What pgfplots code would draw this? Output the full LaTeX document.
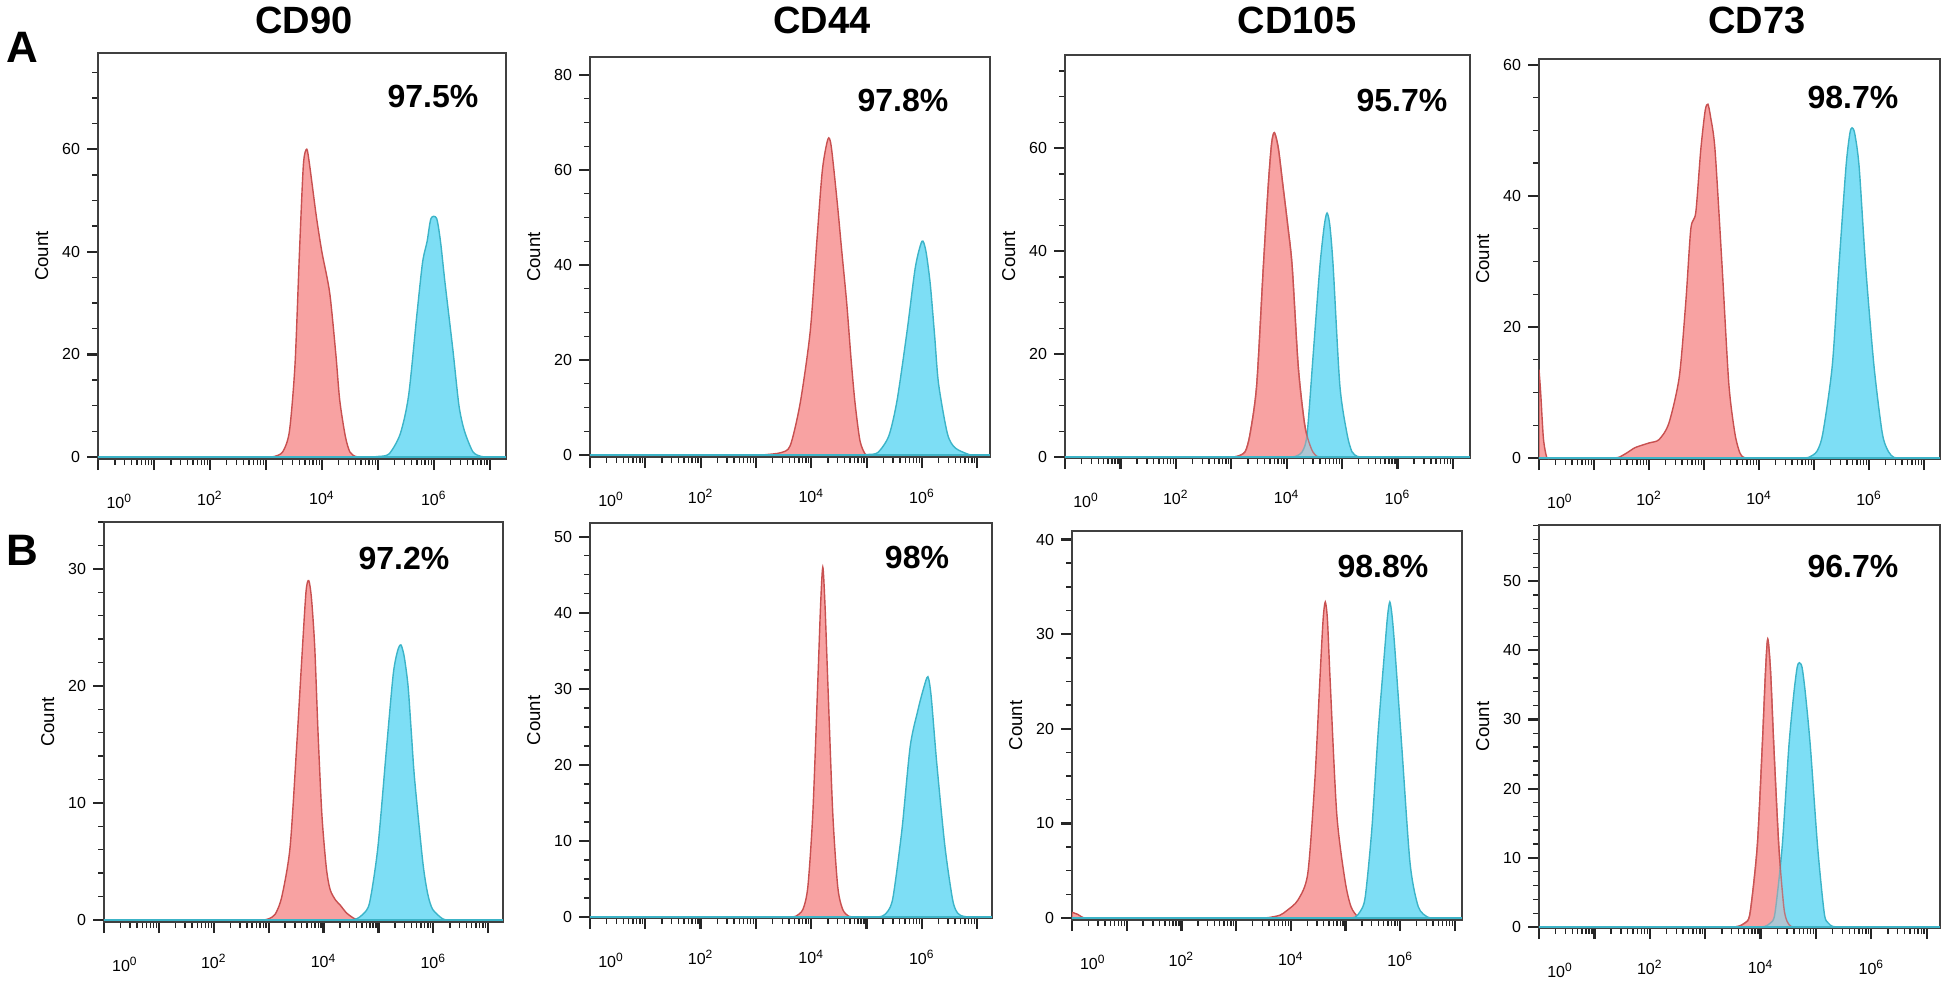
\documentclass[border=0pt]{standalone}
\usepackage{fontspec}
\setmainfont{Liberation Sans}
\usepackage{pgfplots}
\pgfplotsset{compat=1.18}
\definecolor{redfill}{RGB}{248,162,162}
\definecolor{redline}{RGB}{200,80,80}
\definecolor{bluefill}{RGB}{125,222,245}
\definecolor{blueline}{RGB}{60,180,200}
\pgfplotsset{
  flow/.style={
    scale only axis,
    axis line style={black!75, line width=0.7pt},
    xmin=0,
    tick align=outside, xtick pos=bottom, ytick pos=left,
    xtick={0,1,2,3,4,5,6,7},
    xticklabels={,,10\textsuperscript{2},,10\textsuperscript{4},,10\textsuperscript{6},},
    extra x ticks={0.38},
    extra x tick labels={10\textsuperscript{0}},
    extra x tick style={major tick length=0pt, xticklabel style={yshift=-7pt}},
    minor xtick={0.301,0.477,0.602,0.699,0.778,0.845,0.903,0.954,
      1.301,1.477,1.602,1.699,1.778,1.845,1.903,1.954,
      2.301,2.477,2.602,2.699,2.778,2.845,2.903,2.954,
      3.301,3.477,3.602,3.699,3.778,3.845,3.903,3.954,
      4.301,4.477,4.602,4.699,4.778,4.845,4.903,4.954,
      5.301,5.477,5.602,5.699,5.778,5.845,5.903,5.954,
      6.301,6.477,6.602,6.699,6.778,6.845,6.903,6.954},
    major tick length=5.5pt, minor tick length=3pt,
    every major tick/.append style={black!85, line width=1.1pt},
    every minor tick/.append style={black!85, line width=0.7pt},
    tick label style={font=\fontsize{8}{9}\selectfont},
    xticklabel style={yshift=-7pt},
    /pgf/number format/assume math mode=true,
    ylabel={Count},
    ylabel style={font=\fontsize{9.3}{10}\selectfont},
  },
  redpk/.style={smooth, tension=0.45, fill=redfill, draw=redline, line width=0.7pt},
  redov/.style={smooth, tension=0.45, fill=redfill, draw=redline, line width=0.7pt, fill opacity=0.4, draw opacity=0.7},
  bluepk/.style={smooth, tension=0.45, fill=bluefill, draw=blueline, line width=0.7pt},
  basel/.style={blueline, line width=0.8pt},
}
\begin{document}
\begin{tikzpicture}
\useasboundingbox (0,0) rectangle (973.5pt,-492pt);
% ---------------- Row A ----------------
% A1 CD90
\begin{axis}[flow, at={(49pt,-229.5pt)}, anchor=south west, width=204pt, height=203pt,
  xmax=7.29, ymin=-0.39, ymax=78.75, ytick={0,20,40,60}, minor ytick={5,10,...,75}]
\addplot[redpk] coordinates {(3.05,0)(3.15,0.1)(3.3,1)(3.42,5)(3.52,18)(3.6,40)(3.67,57)(3.73,60)(3.78,57)(3.9,47)(4.0,40)(4.14,32)(4.25,20)(4.32,11)(4.42,4)(4.5,1)(4.6,0.1)(4.7,0)} \closedcycle;
\addplot[bluepk] coordinates {(4.9,0)(5.0,0.1)(5.2,0.6)(5.4,4.5)(5.55,12)(5.7,28)(5.8,38)(5.88,42)(5.95,46.5)(6.05,46.5)(6.12,42)(6.2,34)(6.34,21)(6.45,10)(6.55,5)(6.7,1)(6.85,0.1)(6.95,0)} \closedcycle;
\addplot[basel] coordinates {(0,0)(7.29,0)};
\end{axis}
% A2 CD44
\begin{axis}[flow, at={(295pt,-228.5pt)}, anchor=south west, width=200pt, height=200pt,
  xmax=7.23, ymin=-0.42, ymax=83.8, ytick={0,20,40,60,80}, minor ytick={5,10,...,80}]
\addplot[redpk] coordinates {(3.1,0)(3.2,0.1)(3.45,0.5)(3.62,2)(3.8,11)(3.98,26)(4.1,45)(4.2,60)(4.3,66.5)(4.36,65)(4.47,53)(4.55,43)(4.64,32)(4.72,20)(4.79,11)(4.88,3)(4.98,0.1)(5.08,0)} \closedcycle;
\addplot[bluepk] coordinates {(4.9,0)(5.0,0.1)(5.2,0.5)(5.4,4)(5.55,11.5)(5.73,26)(5.88,39.5)(6.0,45)(6.07,43)(6.15,36)(6.23,25)(6.3,15)(6.46,4.5)(6.6,1.5)(6.85,0.1)(6.95,0)} \closedcycle;
\addplot[basel] coordinates {(0,0)(7.23,0)};
\end{axis}
% A3 CD105
\begin{axis}[flow, at={(532.5pt,-229pt)}, anchor=south west, width=202.5pt, height=201.5pt,
  xmax=7.31, ymin=-0.2, ymax=78.1, ytick={0,20,40,60}, minor ytick={5,10,...,75}]
\addplot[redpk] coordinates {(3.0,0)(3.1,0.1)(3.25,1)(3.34,4.5)(3.46,14)(3.58,37)(3.67,53)(3.73,61)(3.78,63)(3.85,60)(3.93,53)(4.02,45)(4.1,37)(4.21,17.5)(4.33,6)(4.45,1.5)(4.55,0.1)(4.65,0)} \closedcycle;
\addplot[bluepk] coordinates {(4.05,0)(4.15,0.1)(4.28,1)(4.37,4.5)(4.48,20)(4.6,37)(4.68,45)(4.73,47.4)(4.78,45)(4.84,37)(4.96,14)(5.09,4.5)(5.18,1)(5.28,0.1)(5.38,0)} \closedcycle;
\addplot[redov] coordinates {(3.0,0)(3.1,0.1)(3.25,1)(3.34,4.5)(3.46,14)(3.58,37)(3.67,53)(3.73,61)(3.78,63)(3.85,60)(3.93,53)(4.02,45)(4.1,37)(4.21,17.5)(4.33,6)(4.45,1.5)(4.55,0.1)(4.65,0)} \closedcycle;
\addplot[basel] coordinates {(0,0)(7.31,0)};
\end{axis}
% A4 CD73
\begin{axis}[flow, at={(769.5pt,-229.5pt)}, anchor=south west, width=200.5pt, height=200pt,
  xmax=7.29, ymin=-0.15, ymax=60.9, ytick={0,20,40,60}, minor ytick={5,10,...,60}]
\addplot[redpk] coordinates {(0,13.5)(0.03,10)(0.08,3)(0.14,0.1)(0.2,0)} \closedcycle;
\addplot[redpk] coordinates {(1.35,0)(1.45,0.1)(1.6,0.8)(1.75,1.6)(2.0,2.3)(2.18,2.8)(2.36,5.3)(2.55,12.4)(2.67,24)(2.76,35)(2.85,37.5)(2.94,47)(3.02,53)(3.07,54)(3.12,52)(3.2,47)(3.33,29)(3.45,11.4)(3.56,3.8)(3.65,0.8)(3.72,0.1)(3.82,0)} \closedcycle;
\addplot[bluepk] coordinates {(4.8,0)(4.9,0.1)(5.05,1)(5.16,3.8)(5.33,14)(5.45,29)(5.58,44.4)(5.65,49.5)(5.69,50.4)(5.74,49.5)(5.82,44.4)(5.94,29)(6.09,14)(6.24,3.8)(6.35,1)(6.45,0.1)(6.55,0)} \closedcycle;
\addplot[basel] coordinates {(0,0)(7.29,0)};
\end{axis}
% ---------------- Row B ----------------
% B1 CD90
\begin{axis}[flow, at={(52pt,-461pt)}, anchor=south west, width=199.5pt, height=200pt,
  xmax=7.27, ymin=-0.17, ymax=34.0, ytick={0,10,20,30}, minor ytick={2,4,...,34}]
\addplot[redpk] coordinates {(2.9,0)(3.0,0.1)(3.12,0.5)(3.24,2)(3.39,6.2)(3.51,14.8)(3.6,22)(3.68,28)(3.73,29)(3.78,27.5)(3.84,23.3)(3.9,16)(3.97,9)(4.05,4.5)(4.12,2.6)(4.22,1.7)(4.3,1.3)(4.42,0.6)(4.57,0.1)(4.67,0)} \closedcycle;
\addplot[bluepk] coordinates {(4.5,0)(4.6,0.1)(4.72,0.5)(4.84,1.5)(4.99,6.2)(5.15,14.8)(5.27,21)(5.35,23)(5.41,23.5)(5.47,22.5)(5.54,20)(5.6,16)(5.66,12)(5.81,4.9)(5.9,2.2)(5.99,0.9)(6.17,0.1)(6.27,0)} \closedcycle;
\addplot[basel] coordinates {(0,0)(7.27,0)};
\end{axis}
% B2 CD44
\begin{axis}[flow, at={(295pt,-459pt)}, anchor=south west, width=201pt, height=197.5pt,
  xmax=7.27, ymin=-0.13, ymax=51.8, ytick={0,10,20,30,40,50}, minor ytick={2.5,5,...,50}]
\addplot[redpk] coordinates {(3.62,0)(3.72,0.1)(3.85,1)(3.94,4)(4.03,13.7)(4.12,31)(4.17,41)(4.21,46)(4.25,41)(4.3,31)(4.39,13.7)(4.48,4)(4.57,1)(4.68,0.1)(4.78,0)} \closedcycle;
\addplot[bluepk] coordinates {(5.18,0)(5.28,0.1)(5.38,0.7)(5.48,2.6)(5.64,11.4)(5.79,22.4)(5.93,27.2)(6.03,30)(6.11,31.6)(6.17,29)(6.27,20.3)(6.42,9.2)(6.56,2.2)(6.65,0.5)(6.75,0.1)(6.85,0)} \closedcycle;
\addplot[basel] coordinates {(0,0)(7.27,0)};
\end{axis}
% B3 CD105
\begin{axis}[flow, at={(536pt,-460pt)}, anchor=south west, width=195pt, height=194.5pt,
  xmax=7.13, ymin=-0.21, ymax=40.9, ytick={0,10,20,30,40}, minor ytick={2.5,5,...,40}]
\addplot[redpk] coordinates {(0,0.6)(0.1,0.4)(0.2,0.05)(0.3,0)} \closedcycle;
\addplot[redpk] coordinates {(3.5,0)(3.6,0.05)(3.8,0.3)(3.93,0.8)(4.13,1.9)(4.31,4.7)(4.44,14.6)(4.53,25)(4.59,31.5)(4.63,33.4)(4.67,31.5)(4.72,25)(4.84,11)(4.99,4)(5.1,1.2)(5.23,0.1)(5.33,0)} \closedcycle;
\addplot[bluepk] coordinates {(5.08,0)(5.18,0.1)(5.27,0.7)(5.36,2.2)(5.48,9.3)(5.6,19.9)(5.72,28.6)(5.77,32)(5.81,33.4)(5.85,32)(5.9,28.6)(6.03,18)(6.18,5.8)(6.33,1.2)(6.5,0.1)(6.6,0)} \closedcycle;
\addplot[basel] coordinates {(0,0)(7.13,0)};
\end{axis}
% B4 CD73
\begin{axis}[flow, at={(769.5pt,-464pt)}, anchor=south west, width=200.5pt, height=201.5pt,
  xmax=7.24, ymin=-0.14, ymax=58.1, ytick={0,10,20,30,40,50}, minor ytick={2,4,...,58}]
\addplot[redpk] coordinates {(3.5,0)(3.6,0.1)(3.72,0.6)(3.81,2)(3.94,11.6)(4.03,26)(4.09,37)(4.13,41.6)(4.18,37)(4.24,26)(4.33,11.6)(4.42,2.9)(4.48,0.8)(4.55,0.1)(4.65,0)} \closedcycle;
\addplot[bluepk] coordinates {(3.98,0)(4.08,0.1)(4.18,0.6)(4.26,2)(4.39,11.6)(4.51,26)(4.6,33.7)(4.66,37.5)(4.7,38.2)(4.75,37.5)(4.81,33.7)(4.9,26)(5.03,11.6)(5.15,2)(5.22,0.6)(5.3,0.1)(5.4,0)} \closedcycle;
\addplot[redov] coordinates {(3.5,0)(3.6,0.1)(3.72,0.6)(3.81,2)(3.94,11.6)(4.03,26)(4.09,37)(4.13,41.6)(4.18,37)(4.24,26)(4.33,11.6)(4.42,2.9)(4.48,0.8)(4.55,0.1)(4.65,0)} \closedcycle;
\addplot[basel] coordinates {(0,0)(7.24,0)};
\end{axis}
% ---------------- Texts ----------------
\begin{scope}[font=\bfseries\fontsize{19}{21}\selectfont]
\node at (152pt,-10pt) {CD90};
\node at (411pt,-10pt) {CD44};
\node at (648.5pt,-10pt) {CD105};
\node at (878.5pt,-10pt) {CD73};
\end{scope}
\begin{scope}[font=\bfseries\fontsize{22}{24}\selectfont]
\node at (11pt,-23.5pt) {A};
\node at (11pt,-275pt) {B};
\end{scope}
\begin{scope}[font=\bfseries\fontsize{16}{18}\selectfont]
\node at (216.5pt,-48pt) {97.5\%};
\node at (451.5pt,-50pt) {97.8\%};
\node at (701pt,-50pt) {95.7\%};
\node at (926.5pt,-48.5pt) {98.7\%};
\node at (202pt,-279pt) {97.2\%};
\node at (458.5pt,-278.5pt) {98\%};
\node at (691.5pt,-283pt) {98.8\%};
\node at (926.5pt,-283pt) {96.7\%};
\end{scope}
\end{tikzpicture}
\end{document}
